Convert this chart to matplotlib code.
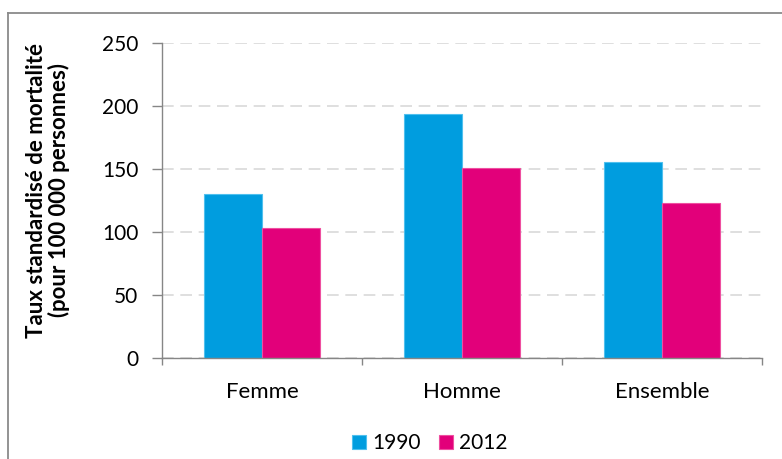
import matplotlib.pyplot as plt
import matplotlib.lines as mlines
import numpy as np

plt.rcParams['font.family'] = ['Lato', 'DejaVu Sans']

# données
categories = ['Femme', 'Homme', 'Ensemble']
annees = ['1990', '2012']
taux_1990 = [130.5, 193.5, 155.2]
taux_2012 = [103.4, 151.0, 123.2]
yticks = [0, 50, 100, 150, 200, 250]

couleurs = ['#009DDF', '#E2007A']
bords = ['#4FC0EE', '#EE4FA0']

fig = plt.figure(figsize=(7.82, 4.59), dpi=100)
ax = fig.add_axes([162 / 782, 101 / 459, 600 / 782, 315 / 459])

x = np.arange(len(categories))
largeur = 0.2885
for i, (vals, an) in enumerate(zip([taux_1990, taux_2012], annees)):
    ax.bar(x + (i - 0.5) * largeur, vals, width=largeur, color=couleurs[i],
           edgecolor=bords[i], linewidth=0.8, label=an, zorder=3)

ax.set_xlim(-0.5, len(categories) - 0.5)
ax.set_ylim(0, 250)
ax.set_yticks(yticks)
ax.set_yticklabels([str(v) for v in yticks], fontsize=15)
ax.set_xticks(x)
ax.set_xticklabels(categories, fontsize=16)
ax.set_xticks(np.arange(-0.5, len(categories), 1), minor=True)
ax.tick_params(axis='x', which='major', length=0, pad=17)
ax.tick_params(axis='x', which='minor', length=5, color='#868686', width=1)
ax.tick_params(axis='y', length=7, color='#868686', width=1, pad=10)

# grille en tirets
ax.yaxis.grid(True, color='#D9D9D9', linestyle=(0, (7, 4)), linewidth=1.2, zorder=0)
ax.set_axisbelow(True)
for s in ['top', 'right']:
    ax.spines[s].set_visible(False)
for s in ['left', 'bottom']:
    ax.spines[s].set_color('#868686')
    ax.spines[s].set_linewidth(1)
ax.spines['bottom'].set_zorder(4)

# titre de l'axe y
fig.text(48 / 782, 1 - 190 / 459,
         'Taux standardisé de mortalité\n(pour 100 000 personnes)',
         rotation=90, ha='center', va='center', fontsize=16,
         fontweight='bold', linespacing=1.05)

leg = fig.legend(loc='center', bbox_to_anchor=(430 / 782, 1 - 443 / 459),
                 ncol=2, frameon=False, fontsize=15, handlelength=0.65,
                 handleheight=0.65, handletextpad=0.3, columnspacing=0.9)

# cadre extérieur (haut et gauche)
fig.add_artist(mlines.Line2D([7.5 / 782, 1], [1 - 12.5 / 459] * 2,
                             transform=fig.transFigure, color='#8A8A8A', linewidth=1.3))
fig.add_artist(mlines.Line2D([7.5 / 782] * 2, [0, 1 - 12.5 / 459],
                             transform=fig.transFigure, color='#8A8A8A', linewidth=1.3))

fig.savefig('out.png', dpi=100)
